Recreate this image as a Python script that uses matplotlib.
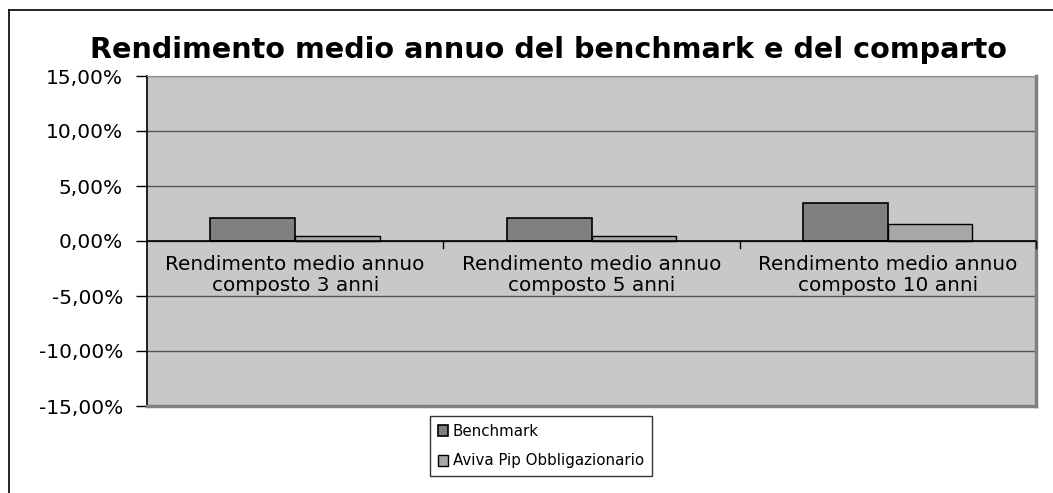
import matplotlib
matplotlib.use("Agg")
import matplotlib.pyplot as plt
import numpy as np
from matplotlib.ticker import FuncFormatter

categories = ["Rendimento medio annuo\ncomposto 3 anni",
              "Rendimento medio annuo\ncomposto 5 anni",
              "Rendimento medio annuo\ncomposto 10 anni"]
benchmark = [2.12, 2.08, 3.43]
aviva = [0.48, 0.50, 1.55]
series_names = ["Benchmark", "Aviva Pip Obbligazionario"]
y_ticks = [-15, -10, -5, 0, 5, 10, 15]

W, H = 1053, 493
fig = plt.figure(figsize=(W / 100, H / 100), dpi=100)
plt.rcParams["font.family"] = ["DejaVu Sans"]

# outer chart border (only left/top visible in the crop)
fig.add_artist(plt.Line2D([9 / W, 9 / W], [0, 1 - 10 / H], color="black", lw=1.2))
fig.add_artist(plt.Line2D([9 / W, 1], [1 - 10 / H, 1 - 10 / H], color="black", lw=1.2))

ax = fig.add_axes([147 / W, 1 - 406 / H, (1036 - 147) / W, (406 - 76) / H])
ax.set_facecolor("#c8c8ca")

x = np.arange(len(categories))
bw = 1 / 3.5
ax.bar(x - bw / 2, benchmark, bw, color="#808080", edgecolor="black", lw=1.2,
       label=series_names[0], zorder=3)
ax.bar(x + bw / 2, aviva, bw, color="#a8a8a8", edgecolor="black", lw=1.0,
       label=series_names[1], zorder=3)

ax.set_xlim(-0.5, len(categories) - 0.5)
ax.set_ylim(-15, 15)
ax.set_yticks(y_ticks)
ax.yaxis.set_major_formatter(FuncFormatter(lambda v, p: f"{v:.2f}%".replace(".", ",")))
ax.tick_params(axis="y", direction="out", length=8, width=1, labelsize=14.5, pad=9.3)
ax.grid(axis="y", color="#555555", lw=1, zorder=1)
ax.set_xticks([])

# zero axis with category-boundary ticks
ax.axhline(0, color="black", lw=1.2, zorder=4)
for b in np.arange(0.5, len(categories), 1):
    ax.plot([b, b], [0, -0.6], color="black", lw=1, zorder=4, clip_on=False)
for i, c in enumerate(categories):
    ax.text(i, -1.3, c, ha="center", va="top", fontsize=14.4, linespacing=1.1, zorder=5)

ax.spines["top"].set_color("#909090")
ax.spines["right"].set_color("#808080")
ax.spines["right"].set_linewidth(2.5)
ax.spines["bottom"].set_color("#808080")
ax.spines["bottom"].set_linewidth(2.5)
ax.spines["left"].set_color("black")
ax.spines["left"].set_linewidth(1.2)

fig.text(549 / W, 1 - 50 / H, "Rendimento medio annuo del benchmark e del comparto",
         ha="center", va="center", fontsize=20.6, fontweight="bold")

leg = fig.legend(loc="center", bbox_to_anchor=(541 / W, 1 - 446 / H), fontsize=10.8,
                 frameon=True, fancybox=False, edgecolor="black", handlelength=0.7,
                 handleheight=0.7, handletextpad=0.3, labelspacing=1.0, borderpad=0.5,
                 borderaxespad=0)
leg.get_frame().set_linewidth(1)

fig.savefig("out.png", dpi=100)
